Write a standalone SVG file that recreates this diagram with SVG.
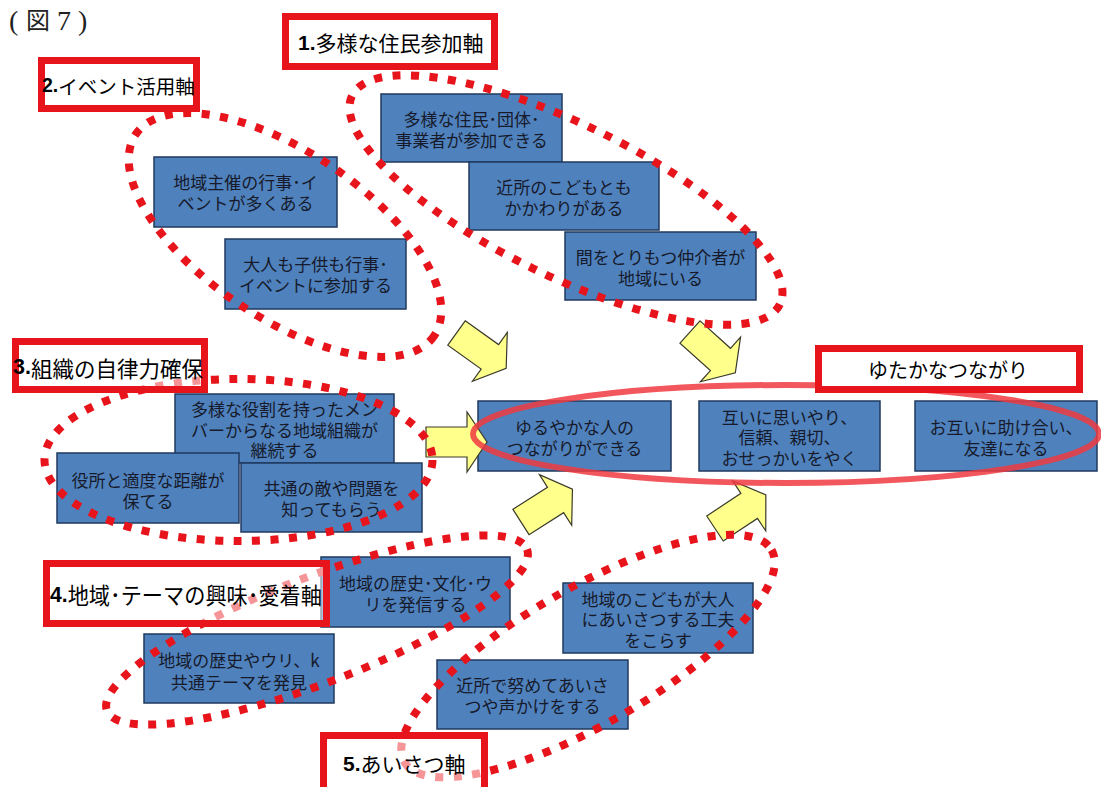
<svg xmlns="http://www.w3.org/2000/svg" xmlns:xlink="http://www.w3.org/1999/xlink" width="1101" height="787" viewBox="0 0 1101 787">
<style>
.bx{fill:#4F81BD;stroke:#1F3A5F;stroke-width:1.5}
.bt{font-family:"Noto Sans CJK JP","Noto Sans",sans-serif;font-size:17px;fill:#161a2a;text-anchor:middle;dominant-baseline:central}
.lb{fill:#fff;fill-opacity:.55;stroke:#E8141C;stroke-width:7}
.lbo{fill:#fff;stroke:#E8141C;stroke-width:7}
.lt{font-family:"Noto Sans CJK JP","Noto Sans",sans-serif;fill:#000;dominant-baseline:central}
.num{font-family:"Liberation Sans",Arial,sans-serif;font-weight:bold}
.dot{fill:none;stroke:#E8141C;stroke-width:8;stroke-dasharray:8 10.5}
.big{fill:none;stroke:#EE3A3F;stroke-opacity:.85;stroke-width:6}
.arr{fill:#FFFF8C;stroke:#3a3a2a;stroke-width:1.2;stroke-linejoin:miter}
.ttl{font-family:"Liberation Serif",serif;font-size:28px;fill:#222}
.ttk{font-family:"Noto Sans CJK JP",sans-serif;font-size:24px}
</style>
<defs>
<path id="ar" class="arr" d="M0,-15 H41 V-30 L61,0 L41,30 V15 H0 Z"/>
</defs>
<rect width="1101" height="787" fill="#fff"/>
<text class="ttl" y="30"><tspan x="9">(</tspan><tspan class="ttk" x="26" y="29">図</tspan><tspan x="57" y="30">7</tspan><tspan x="78">)</tspan></text>

<g id="nodes">
<g id="n-jumin"><rect class="bx" x="381" y="94" width="181" height="68"/><text class="bt"><tspan x="471.5" y="117.5">多様な住民･団体･</tspan><tspan x="471.5" y="138.5">事業者が参加できる</tspan></text></g>
<g id="n-kinjo"><rect class="bx" x="469" y="162" width="190" height="68"/><text class="bt"><tspan x="564" y="185.5">近所のこどもとも</tspan><tspan x="564" y="206.5">かかわりがある</tspan></text></g>
<g id="n-chukai"><rect class="bx" x="565" y="232" width="191" height="68"/><text class="bt"><tspan x="660.5" y="256">間をとりもつ仲介者が</tspan><tspan x="660.5" y="277">地域にいる</tspan></text></g>
<g id="n-gyoji"><rect class="bx" x="154" y="157" width="183" height="70"/><text class="bt"><tspan x="245.5" y="181">地域主催の行事･イ</tspan><tspan x="245.5" y="202">ベントが多くある</tspan></text></g>
<g id="n-otona"><rect class="bx" x="225" y="239" width="181" height="70"/><text class="bt"><tspan x="315.5" y="263">大人も子供も行事･</tspan><tspan x="315.5" y="284">イベントに参加する</tspan></text></g>
<g id="n-yakuwari"><rect class="bx" x="175" y="394" width="219" height="69"/><text class="bt"><tspan x="284.5" y="408">多様な役割を持ったメン</tspan><tspan x="284.5" y="428.5">バーからなる地域組織が</tspan><tspan x="284.5" y="449">継続する</tspan></text></g>
<g id="n-yakusho"><rect class="bx" x="57" y="453" width="182" height="70"/><text class="bt"><tspan x="148" y="479">役所と適度な距離が</tspan><tspan x="148" y="500">保てる</tspan></text></g>
<g id="n-teki"><rect class="bx" x="241" y="463" width="181" height="69"/><text class="bt"><tspan x="331.5" y="487">共通の敵や問題を</tspan><tspan x="331.5" y="508">知ってもらう</tspan></text></g>
<g id="n-yuruyaka"><rect class="bx" x="478" y="401" width="193" height="70"/><text class="bt"><tspan x="574.5" y="425.5">ゆるやかな人の</tspan><tspan x="574.5" y="446.5">つながりができる</tspan></text></g>
<g id="n-omoiyari"><rect class="bx" x="699" y="401" width="181" height="70"/><text class="bt"><tspan x="789.5" y="415.5">互いに思いやり、</tspan><tspan x="789.5" y="436">信頼、親切、</tspan><tspan x="789.5" y="456.5">おせっかいをやく</tspan></text></g>
<g id="n-tasukeai"><rect class="bx" x="915" y="401" width="182" height="70"/><text class="bt"><tspan x="1006" y="426">お互いに助け合い、</tspan><tspan x="1006" y="447">友達になる</tspan></text></g>
<g id="n-rekishi"><rect class="bx" x="321" y="557" width="189" height="70"/><text class="bt"><tspan x="415.5" y="582">地域の歴史･文化･ウ</tspan><tspan x="415.5" y="603">リを発信する</tspan></text></g>
<g id="n-uri"><rect class="bx" x="144" y="634" width="190" height="69"/><text class="bt"><tspan x="239" y="659">地域の歴史やウリ、k</tspan><tspan x="239" y="681">共通テーマを発見</tspan></text></g>
<g id="n-kodomo"><rect class="bx" x="563" y="583" width="190" height="70"/><text class="bt"><tspan x="658" y="597.5">地域のこどもが大人</tspan><tspan x="658" y="618">にあいさつする工夫</tspan><tspan x="658" y="638.5">をこらす</tspan></text></g>
<g id="n-aisatsu"><rect class="bx" x="437" y="660" width="191" height="69"/><text class="bt"><tspan x="532.5" y="684">近所で努めてあいさ</tspan><tspan x="532.5" y="705">つや声かけをする</tspan></text></g>
</g>

<g id="connectors">
<use xlink:href="#ar" href="#ar" transform="translate(456.5,333) rotate(35.5)"/>
<use xlink:href="#ar" href="#ar" transform="translate(690,332) rotate(42)"/>
<use xlink:href="#ar" href="#ar" transform="translate(426,442)"/>
<use xlink:href="#ar" href="#ar" transform="translate(521,522) rotate(-32.5)"/>
<use xlink:href="#ar" href="#ar" transform="translate(715,528.5) rotate(-33.5)"/>
</g>

<g id="groupings">
<ellipse class="big" cx="786" cy="434" rx="313" ry="49"/>
<ellipse class="dot" cx="0" cy="0" rx="238" ry="76" transform="translate(566,200) rotate(26)"/>
<ellipse class="dot" cx="0" cy="0" rx="180" ry="83" transform="translate(285,235) rotate(34)"/>
<ellipse class="dot" cx="238.5" cy="460" rx="194" ry="81"/>
<ellipse class="dot" cx="0" cy="0" rx="225" ry="53" transform="translate(317,630) rotate(-21)"/>
<ellipse class="dot" cx="0" cy="0" rx="212" ry="68" transform="translate(588,656) rotate(-30)"/>
</g>

<g id="labels">
<g id="l-1"><rect class="lb" x="285.5" y="16.5" width="209" height="50"/><text class="lt" x="298" y="42" font-size="21"><tspan class="num">1.</tspan>多様な住民参加軸</text></g>
<g id="l-2"><rect class="lb" x="41.5" y="60.5" width="155" height="48"/><text class="lt" x="42" y="85" font-size="19.5"><tspan class="num">2.</tspan>イベント活用軸</text></g>
<g id="l-3"><rect class="lb" x="15.5" y="341.5" width="189" height="48"/><text class="lt" x="13" y="367" font-size="21.5"><tspan class="num">3.</tspan>組織の自律力確保</text></g>
<g id="l-4"><rect class="lb" x="46.5" y="563.5" width="280" height="60"/><text class="lt" x="50" y="594" font-size="22.5" textLength="272" lengthAdjust="spacingAndGlyphs"><tspan class="num">4.</tspan>地域･テーマの興味･愛着軸</text></g>
<g id="l-5"><rect class="lb" x="323.5" y="735.5" width="161" height="60"/><text class="lt" x="343" y="763" font-size="21"><tspan class="num">5.</tspan>あいさつ軸</text></g>
<g id="l-yutaka"><rect class="lbo" x="818.5" y="348.5" width="261" height="41"/><text class="lt" x="948" y="369" font-size="20" text-anchor="middle">ゆたかなつながり</text></g>
</g>
</svg>
